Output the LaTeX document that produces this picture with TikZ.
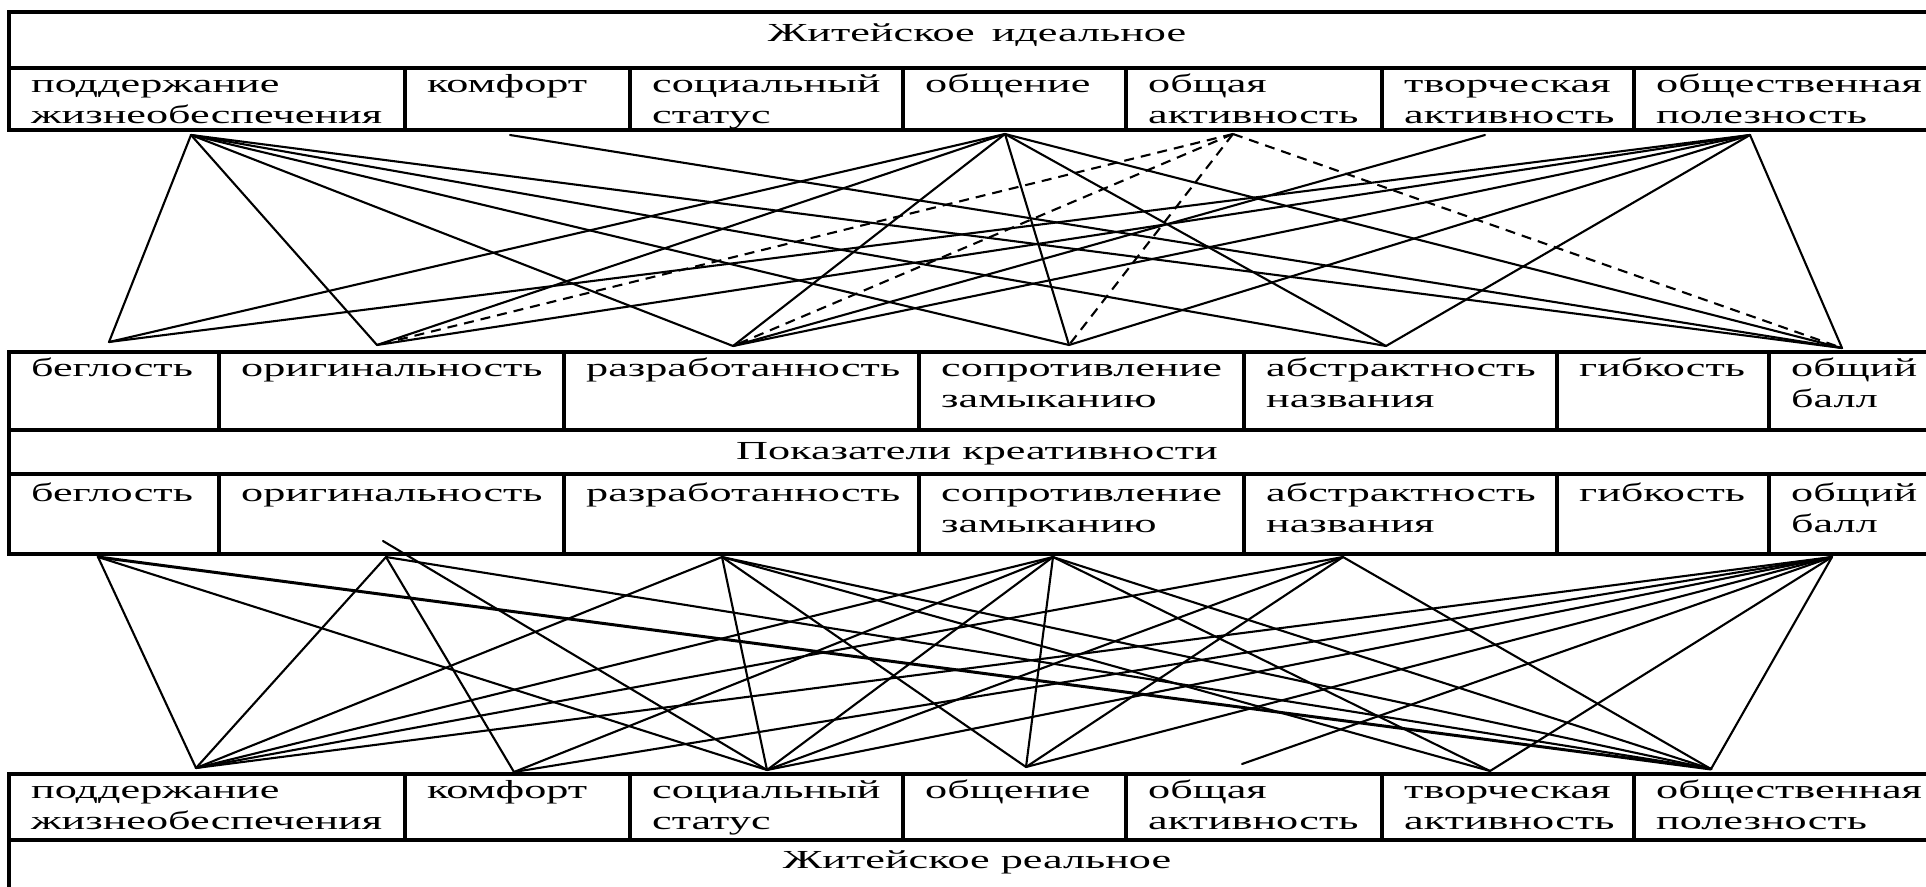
\documentclass[tikz,border=0pt]{standalone}
\usepackage{fontspec}
\setmainfont[FakeStretch=1.70]{Liberation Serif}
\begin{document}
\begin{tikzpicture}[x=1pt,y=-1pt,
  frame/.style={line width=4pt},
  link/.style={line width=2.1pt, line cap=round},
  dlink/.style={link, line cap=butt, dash pattern=on 10pt off 7pt},
  cell/.style={anchor=north west, inner sep=0pt, align=left, font=\fontsize{26}{31}\selectfont},
  ttl/.style={anchor=base, inner sep=0pt, font=\fontsize{26}{31}\selectfont}]
\useasboundingbox (0,0) rectangle (1926,886);
\fill[white] (0,0) rectangle (1926,886);
\clip (0,0) rectangle (1926,886);

% ---------- top table: Житейское идеальное
\draw[frame] (1950,12) -- (9,12) -- (9,130) -- (1950,130);
\draw[frame] (9,68) -- (1950,68);
\foreach \x in {405,630,903,1126,1382,1634} \draw[frame] (\x,68) -- (\x,130);
\node[ttl] (ti) at (977,41) {Житейское\hspace{6pt} идеальное};
\node[cell] (t1) at (31,71) {\strut поддержание\\жизнеобеспечения};
\node[cell] (t2) at (427,71) {\strut комфорт};
\node[cell] (t3) at (652,71) {\strut социальный\\статус};
\node[cell] (t4) at (925,71) {\strut общение};
\node[cell] (t5) at (1148,71) {\strut общая\\активность};
\node[cell] (t6) at (1404,71) {\strut творческая\\активность};
\node[cell] (t7) at (1656,71) {\strut общественная\\полезность};

% ---------- middle table: Показатели креативности
\draw[frame] (1950,352) -- (9,352) -- (9,554) -- (1950,554);
\draw[frame] (9,430) -- (1950,430);
\draw[frame] (9,474) -- (1950,474);
\foreach \x in {219,564,919,1244,1557,1769} {
  \draw[frame] (\x,352) -- (\x,430);
  \draw[frame] (\x,474) -- (\x,554);
}
\node[ttl] (mi) at (977,459) {Показатели креативности};
\node[cell] (u1) at (31,355) {\strut беглость};
\node[cell] (u2) at (241,355) {\strut оригинальность};
\node[cell] (u3) at (586,355) {\strut разработанность};
\node[cell] (u4) at (941,355) {\strut сопротивление\\замыканию};
\node[cell] (u5) at (1266,355) {\strut абстрактность\\названия};
\node[cell] (u6) at (1579,355) {\strut гибкость};
\node[cell] (u7) at (1791,355) {\strut общий\\балл};
\node[cell] (l1) at (31,480) {\strut беглость};
\node[cell] (l2) at (241,480) {\strut оригинальность};
\node[cell] (l3) at (586,480) {\strut разработанность};
\node[cell] (l4) at (941,480) {\strut сопротивление\\замыканию};
\node[cell] (l5) at (1266,480) {\strut абстрактность\\названия};
\node[cell] (l6) at (1579,480) {\strut гибкость};
\node[cell] (l7) at (1791,480) {\strut общий\\балл};

% ---------- bottom table: Житейское реальное
\draw[frame] (1950,774) -- (9,774) -- (9,900);
\draw[frame] (9,840) -- (1950,840);
\foreach \x in {405,630,903,1126,1382,1634} \draw[frame] (\x,774) -- (\x,840);
\node[ttl] (bi) at (977,868) {Житейское реальное};
\node[cell] (b1) at (31,777) {\strut поддержание\\жизнеобеспечения};
\node[cell] (b2) at (427,777) {\strut комфорт};
\node[cell] (b3) at (652,777) {\strut социальный\\статус};
\node[cell] (b4) at (925,777) {\strut общение};
\node[cell] (b5) at (1148,777) {\strut общая\\активность};
\node[cell] (b6) at (1404,777) {\strut творческая\\активность};
\node[cell] (b7) at (1656,777) {\strut общественная\\полезность};

% ---------- connection points
\coordinate (A1) at (191,135);
\coordinate (A2) at (510,135);
\coordinate (A4) at (1005,134);
\coordinate (A5) at (1233,134);
\coordinate (A6) at (1485,135);
\coordinate (A7) at (1750,135);
\coordinate (B1) at (109,342);
\coordinate (B2) at (377,345);
\coordinate (B3) at (733,346);
\coordinate (B4) at (1069,345);
\coordinate (B5) at (1386,346);
\coordinate (B7) at (1842,348);

\coordinate (C1) at (98,557);
\coordinate (C2) at (386,557);
\coordinate (C2x) at (383,541);
\coordinate (C3) at (722,557);
\coordinate (C4) at (1053,557);
\coordinate (C5) at (1343,557);
\coordinate (C7) at (1832,557);
\coordinate (D1) at (196,768);
\coordinate (D2) at (514,772);
\coordinate (D3) at (767,770);
\coordinate (D4) at (1026,767);
\coordinate (D5) at (1242,764);
\coordinate (D6) at (1490,771);
\coordinate (D7) at (1711,769);

% ---------- upper connectors
\foreach \b in {B1,B2,B3,B4,B5,B7} {
  \draw[link] (A1) -- (\b);
  \draw[link] (A4) -- (\b);
  \draw[link] (A7) -- (\b);
}
\draw[link] (A2) -- (B7);
\draw[link] (A6) -- (B3);
\foreach \b in {B2,B3,B4,B7} \draw[dlink] (A5) -- (\b);

% ---------- lower connectors
\draw[link, line width=3pt] (C1) -- (D7);
\foreach \d in {D1,D3} \draw[link] (C1) -- (\d);
\foreach \d in {D1,D2,D7} \draw[link] (C2) -- (\d);
\draw[link] (C2x) -- (D3);
\foreach \d in {D1,D3,D4,D6,D7} \draw[link] (C3) -- (\d);
\foreach \d in {D1,D2,D3,D4,D6,D7} \draw[link] (C4) -- (\d);
\foreach \d in {D1,D3,D4,D7} \draw[link] (C5) -- (\d);
\foreach \d in {D1,D2,D3,D4,D5,D6,D7} \draw[link] (C7) -- (\d);
\end{tikzpicture}
\end{document}
